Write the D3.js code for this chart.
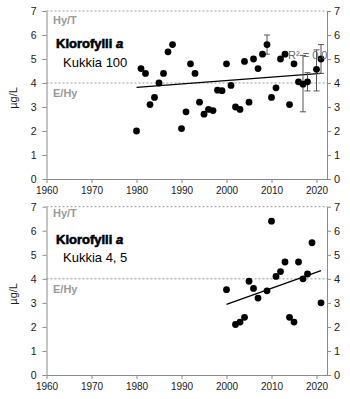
<!DOCTYPE html>
<html><head><meta charset="utf-8">
<script src="https://cdn.jsdelivr.net/npm/d3@7"></script>
<style>body{margin:0;background:#fff;}svg{display:block;}</style>
</head><body>
<svg id="c" width="350" height="399"></svg>
<script>
// ---- data ----
const years1 = [1980,1981,1982,1983,1984,1985,1986,1987,1988,1990,1991,1992,1993,1994,1995,1996,1997,1998,1999,2000,2001,2002,2003,2004,2005,2006,2007,2008,2009,2010,2011,2012,2013,2014,2015,2016,2017,2018,2020,2021];
const vals1  = [2.0,4.6,4.4,3.1,3.4,4.0,4.4,5.3,5.6,2.1,2.8,4.8,4.4,3.2,2.7,2.9,2.85,3.7,3.68,4.8,3.9,3.0,2.9,4.9,3.2,5.0,4.6,5.2,5.6,3.4,3.8,5.0,5.2,3.1,4.8,4.05,3.95,4.05,4.57,5.0];
const errYears1 = [2009,2017,2018,2020,2021];
const errLo1 = [5.2,2.8,3.67,3.67,4.4];
const errHi1 = [6.0,5.15,4.43,5.38,5.6];
const trend1 = [[1980,3.82],[2021,4.40]];

const years2 = [2000,2002,2003,2004,2005,2006,2007,2009,2010,2011,2012,2013,2014,2015,2016,2017,2018,2019,2021];
const vals2  = [3.55,2.1,2.2,2.4,3.9,3.6,3.2,3.5,6.4,4.1,4.3,4.7,2.4,2.2,4.7,4.0,4.2,5.5,3.0];
const trend2 = [[2000,2.94],[2021,4.34]];

const xTicks = [1960,1970,1980,1990,2000,2010,2020];
const yTicks = [0,1,2,3,4,5,6,7];
const thresholds = [{v:7,label:"Hy/T"},{v:4,label:"E/Hy"}];
const titles = ["Klorofylli ", "a"];
const subtitles = ["Kukkia 100","Kukkia 4, 5"];
const yLabel = "µg/L";
const r2Label = "R² = 0,01";

// ---- drawing ----
const svg = d3.select("#c");
const x = d3.scaleLinear().domain([1960, 2022.33]).range([46.5, 327]);
const panels = [
  {top: 11, bottom: 179, years: years1, vals: vals1, trend: trend1, sub: subtitles[0], err: true, hyOff: 13},
  {top: 206.7, bottom: 375, years: years2, vals: vals2, trend: trend2, sub: subtitles[1], err: false, hyOff: 10}
];
const axisColor = "#8a8a8a";
const font = "Liberation Sans, Arial, sans-serif";

panels.forEach((p, i) => {
  const y = d3.scaleLinear().domain([0,7]).range([p.bottom, p.top]);
  const g = svg.append("g");
  const clipId = "clip" + i;
  svg.append("clipPath").attr("id", clipId).append("rect")
    .attr("x", x.range()[0]).attr("y", p.top - 10).attr("width", x.range()[1]-x.range()[0]).attr("height", p.bottom - p.top + 10);

  // thresholds
  thresholds.forEach(t => {
    g.append("line").attr("x1", x.range()[0]).attr("x2", x.range()[1])
      .attr("y1", y(t.v)).attr("y2", y(t.v))
      .attr("stroke", "#9a9a9a").attr("stroke-width", 1).attr("stroke-dasharray", "2,2");
    g.append("text").attr("x", 53).attr("y", y(t.v) + (t.v === 7 ? p.hyOff : 14))
      .attr("font-family", font).attr("font-weight", "bold").attr("font-size", 11)
      .attr("fill", "#9a9a9a").text(t.label);
  });

  // axes
  const xAxis = d3.axisBottom(x).tickValues(xTicks).tickSize(4).tickSizeOuter(0).tickFormat(d3.format("d"));
  const gx = g.append("g").attr("transform", `translate(0,${p.bottom})`).call(xAxis);
  const yAxisL = d3.axisLeft(y).tickValues(yTicks).tickSize(4).tickSizeOuter(0).tickFormat(d3.format("d"));
  const gl = g.append("g").attr("transform", `translate(${x.range()[0]},0)`).call(yAxisL);
  const yAxisR = d3.axisRight(y).tickValues(yTicks).tickSize(4).tickSizeOuter(0).tickFormat(d3.format("d"));
  const gr = g.append("g").attr("transform", `translate(${x.range()[1]},0)`).call(yAxisR);
  [gx, gl, gr].forEach(a => {
    a.select(".domain").attr("stroke", axisColor);
    a.selectAll(".tick line").attr("stroke", axisColor);
    a.selectAll(".tick text").attr("fill", "#1a1a1a").attr("font-family", font);
  });
  gx.selectAll(".tick text").attr("font-size", 10).attr("dy", "0.95em").attr("y", 5);
  gl.selectAll(".tick text").attr("font-size", 10.5).attr("x", -10);
  gr.selectAll(".tick text").attr("font-size", 11).attr("x", 7);

  // y label
  g.append("text").attr("transform", `translate(17,${(p.top+p.bottom)/2 + 3}) rotate(-90)`)
    .attr("text-anchor", "middle").attr("font-family", font).attr("font-size", 11)
    .attr("fill", "#1a1a1a").text(yLabel);

  // titles
  const t = g.append("text").attr("x", 56).attr("y", p.top + 37)
    .attr("font-family", font).attr("font-weight", "bold").attr("font-size", 13)
    .attr("fill", "#000").attr("stroke", "#000").attr("stroke-width", 0.6);
  t.append("tspan").text(titles[0]);
  t.append("tspan").attr("font-style", "italic").text(titles[1]);
  g.append("text").attr("x", 63).attr("y", p.top + 55.5)
    .attr("font-family", font).attr("font-size", 13).attr("fill", "#000").text(p.sub);

  // trend line
  g.append("line")
    .attr("x1", x(p.trend[0][0])).attr("y1", y(p.trend[0][1]))
    .attr("x2", x(p.trend[1][0])).attr("y2", y(p.trend[1][1]))
    .attr("stroke", "#000").attr("stroke-width", 1.3);

  // error bars
  if (p.err) {
    const eg = g.append("g").attr("stroke", "#555").attr("stroke-width", 1);
    errYears1.forEach((yr, k) => {
      const cx = x(yr);
      eg.append("line").attr("x1", cx).attr("x2", cx).attr("y1", y(errLo1[k])).attr("y2", y(errHi1[k]));
      eg.append("line").attr("x1", cx-3).attr("x2", cx+3).attr("y1", y(errLo1[k])).attr("y2", y(errLo1[k]));
      eg.append("line").attr("x1", cx-3).attr("x2", cx+3).attr("y1", y(errHi1[k])).attr("y2", y(errHi1[k]));
    });
  }

  // points
  g.append("g").selectAll("circle").data(p.years.map((yr, k) => [yr, p.vals[k]]))
    .join("circle").attr("cx", d => x(d[0])).attr("cy", d => y(d[1])).attr("r", 3.4).attr("fill", "#000");

  if (p.err) {
    g.append("text").attr("x", 288).attr("y", 59).attr("clip-path", `url(#${clipId})`)
      .attr("font-family", font).attr("font-size", 11).attr("fill", "#6a6a6a").text(r2Label);
  }
});
</script>
</body></html>
